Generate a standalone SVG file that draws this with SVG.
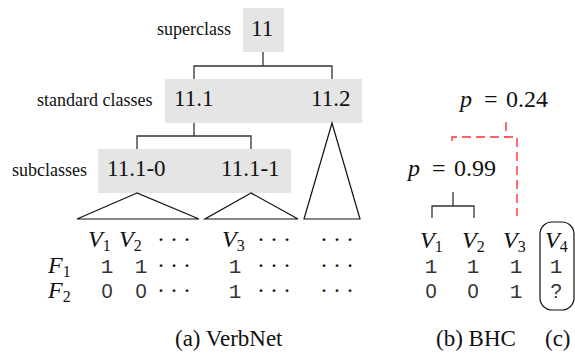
<svg xmlns="http://www.w3.org/2000/svg" width="575" height="353" viewBox="0 0 575 353">
<g id="superclass">
  <rect fill="#e5e5e5" x="243" y="8" width="41" height="44"/>
  <text font-family="Liberation Serif" font-size="18" fill="#111" x="157" y="35">superclass</text>
  <text font-family="Liberation Serif" font-size="23" fill="#111" x="251" y="36">11</text>
</g>
<g id="standard">
  <rect fill="#e5e5e5" x="165" y="79" width="197" height="44"/>
  <text font-family="Liberation Serif" font-size="18" fill="#111" x="37" y="106">standard classes</text>
  <text font-family="Liberation Serif" font-size="23" fill="#111" x="174" y="106">11.1</text>
  <text font-family="Liberation Serif" font-size="23" fill="#111" x="311" y="106">11.2</text>
</g>
<g id="subclasses">
  <rect fill="#e5e5e5" x="98" y="149" width="193" height="44"/>
  <text font-family="Liberation Serif" font-size="18" fill="#111" x="12" y="176">subclasses</text>
  <text font-family="Liberation Serif" font-size="23" fill="#111" x="107" y="176">11.1-0</text>
  <text font-family="Liberation Serif" font-size="23" fill="#111" x="221" y="176">11.1-1</text>
</g>

<g id="connectors" fill="none">
  <g stroke="#333" stroke-width="1.3">
    <path d="M263 52V66M194 79V66H332V79"/>
    <path d="M194 123V136M137 149V136H251V149"/>
    <path d="M453 192V206M432 218V206H474V218"/>
  </g>
  <g stroke="#111" stroke-width="1.2">
    <polygon points="137,193 77,219 199,219"/>
    <polygon points="251,193 205,219 298,219"/>
    <polygon points="332,123 304,219 360,219"/>
  </g>
  <g stroke="#ff3030" stroke-width="1.4" stroke-dasharray="9 5">
    <path d="M506 122V137"/>
    <path d="M452 141V137H517V216"/>
  </g>
</g>

<g id="new-verb">
  <rect x="540" y="222" width="34" height="88" rx="12" ry="12" fill="none" stroke="#111" stroke-width="1.2"/>
</g>

<text font-family="Liberation Serif" font-size="24" font-style="italic" fill="#111" x="88" y="247">V<tspan font-size="16" font-style="normal" dy="4">1</tspan></text>
<text font-family="Liberation Serif" font-size="24" font-style="italic" fill="#111" x="119" y="247">V<tspan font-size="16" font-style="normal" dy="4">2</tspan></text>
<text font-family="Liberation Serif" font-size="24" font-style="italic" fill="#111" x="222" y="247">V<tspan font-size="16" font-style="normal" dy="4">3</tspan></text>
<text font-family="Liberation Serif" font-size="24" font-style="italic" fill="#111" x="48" y="273">F<tspan font-size="16" font-style="normal" dy="4">1</tspan></text>
<text font-family="Liberation Serif" font-size="24" font-style="italic" fill="#111" x="48" y="298">F<tspan font-size="16" font-style="normal" dy="4">2</tspan></text>
<text font-family="Liberation Serif" font-size="24" font-style="italic" fill="#111" x="420" y="248">V<tspan font-size="16" font-style="normal" dy="4">1</tspan></text>
<text font-family="Liberation Serif" font-size="24" font-style="italic" fill="#111" x="462" y="248">V<tspan font-size="16" font-style="normal" dy="4">2</tspan></text>
<text font-family="Liberation Serif" font-size="24" font-style="italic" fill="#111" x="503" y="248">V<tspan font-size="16" font-style="normal" dy="4">3</tspan></text>
<text font-family="Liberation Serif" font-size="24" font-style="italic" fill="#111" x="545" y="248">V<tspan font-size="16" font-style="normal" dy="4">4</tspan></text>
<text font-family="Liberation Serif" font-size="24" font-style="italic" fill="#111" x="460" y="107">p</text>
<text font-family="Liberation Serif" font-size="24" font-style="italic" fill="#111" x="408" y="176">p</text>
<text font-family="Liberation Serif" font-size="24" fill="#111" x="484" y="107">=</text>
<text font-family="Liberation Serif" font-size="24" fill="#111" x="506" y="107">0.24</text>
<text font-family="Liberation Serif" font-size="24" fill="#111" x="432" y="176">=</text>
<text font-family="Liberation Serif" font-size="24" fill="#111" x="454" y="176">0.99</text>

<text font-family="Liberation Serif" font-size="24" letter-spacing="5" fill="#111" x="157" y="247">···</text>
<text font-family="Liberation Serif" font-size="24" letter-spacing="5" fill="#111" x="257" y="247">···</text>
<text font-family="Liberation Serif" font-size="24" letter-spacing="5" fill="#111" x="320" y="247">···</text>
<text font-family="Liberation Serif" font-size="24" letter-spacing="5" fill="#111" x="157" y="273">···</text>
<text font-family="Liberation Serif" font-size="24" letter-spacing="5" fill="#111" x="257" y="273">···</text>
<text font-family="Liberation Serif" font-size="24" letter-spacing="5" fill="#111" x="320" y="273">···</text>
<text font-family="Liberation Serif" font-size="24" letter-spacing="5" fill="#111" x="157" y="298">···</text>
<text font-family="Liberation Serif" font-size="24" letter-spacing="5" fill="#111" x="257" y="298">···</text>
<text font-family="Liberation Serif" font-size="24" letter-spacing="5" fill="#111" x="320" y="298">···</text>

<text font-family="Liberation Mono" font-size="21" fill="#333" text-anchor="middle" x="107" y="273">1</text>
<text font-family="Liberation Mono" font-size="21" fill="#333" text-anchor="middle" x="141" y="273">1</text>
<text font-family="Liberation Mono" font-size="21" fill="#333" text-anchor="middle" x="235" y="273">1</text>
<text font-family="Liberation Mono" font-size="21" fill="#333" text-anchor="middle" x="235" y="298">1</text>
<text font-family="Liberation Mono" font-size="21" fill="#333" text-anchor="middle" x="431" y="273">1</text>
<text font-family="Liberation Mono" font-size="21" fill="#333" text-anchor="middle" x="473" y="273">1</text>
<text font-family="Liberation Mono" font-size="21" fill="#333" text-anchor="middle" x="516" y="273">1</text>
<text font-family="Liberation Mono" font-size="21" fill="#333" text-anchor="middle" x="516" y="298">1</text>
<text font-family="Liberation Mono" font-size="21" fill="#333" text-anchor="middle" x="556" y="273">1</text>
<text font-family="Liberation Sans" font-size="20" fill="#333" text-anchor="middle" x="107" y="298">0</text>
<text font-family="Liberation Sans" font-size="20" fill="#333" text-anchor="middle" x="141" y="298">0</text>
<text font-family="Liberation Sans" font-size="20" fill="#333" text-anchor="middle" x="431" y="298">0</text>
<text font-family="Liberation Sans" font-size="20" fill="#333" text-anchor="middle" x="473" y="298">0</text>
<text font-family="Liberation Sans" font-size="20" fill="#333" text-anchor="middle" x="556" y="298">?</text>

<text font-family="Liberation Serif" font-size="23" fill="#111" x="175" y="346">(a) VerbNet</text>
<text font-family="Liberation Serif" font-size="23" fill="#111" x="436" y="346">(b) BHC</text>
<text font-family="Liberation Serif" font-size="23" fill="#111" x="545" y="346">(c)</text>
</svg>
